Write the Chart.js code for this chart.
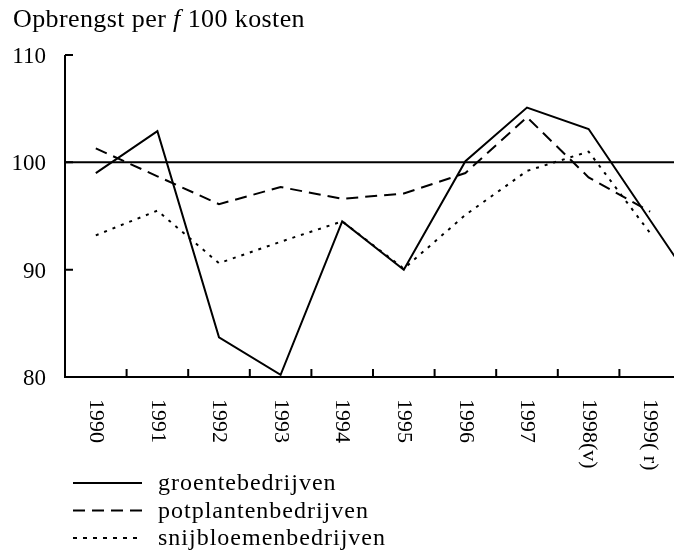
<!DOCTYPE html>
<html>
<head>
<meta charset="utf-8">
<script src="https://cdn.jsdelivr.net/npm/chart.js@4/dist/chart.umd.min.js"></script>
<style>
  html, body { margin: 0; padding: 0; background: #fff; overflow: hidden; }
</style>
</head>
<body>
<canvas id="chart" width="760" height="553"></canvas>
<script>
// years on the x axis; the last slot runs past the right edge of the picture
const years = ['1990', '1991', '1992', '1993', '1994', '1995', '1996', '1997', '1998(v)', '1999( r)', ''];
const groente = [99.0, 102.9, 83.7, 80.2, 94.5, 90.0, 100.1, 105.1, 103.1, 94.6, 86.1];
const potplanten = [101.3, 98.7, 96.1, 97.7, 96.6, 97.1, 99.0, 104.2, 98.6, 95.4, null];
const snijbloemen = [93.2, 95.5, 90.6, 92.6, 94.5, 90.1, 95.1, 99.2, 101.0, 93.4, null];
const yTicks = [80, 90, 100, 110];

const FONT = '"Liberation Serif", "DejaVu Serif", serif';

// axes, inward ticks, the 100 line, rotated year labels, title and legend
const paperLayout = {
  id: 'paperLayout',
  beforeDatasetsDraw(chart) {
    const ctx = chart.ctx;
    const a = chart.chartArea;
    const x = chart.scales.x;
    const y = chart.scales.y;
    ctx.save();
    ctx.strokeStyle = '#000';
    ctx.lineWidth = 2;
    ctx.beginPath();
    ctx.moveTo(a.left, y.getPixelForValue(110));
    ctx.lineTo(a.left, a.bottom);
    ctx.lineTo(chart.width, a.bottom);
    yTicks.forEach(v => {
      const py = y.getPixelForValue(v);
      ctx.moveTo(a.left, py);
      ctx.lineTo(a.left + 8, py);
    });
    for (let i = 0; i < years.length - 1; i++) {
      const px = x.getPixelForValue(i + 0.5);
      ctx.moveTo(px, a.bottom);
      ctx.lineTo(px, a.bottom - 8);
    }
    ctx.stroke();
    // horizontal line at 100
    ctx.beginPath();
    ctx.moveTo(a.left, y.getPixelForValue(100));
    ctx.lineTo(chart.width, y.getPixelForValue(100));
    ctx.stroke();
    ctx.restore();
  },
  afterDraw(chart) {
    const ctx = chart.ctx;
    const a = chart.chartArea;
    const x = chart.scales.x;
    const y = chart.scales.y;
    ctx.save();
    ctx.fillStyle = '#000';

    // y labels
    ctx.font = '23px ' + FONT;
    ctx.textAlign = 'right';
    ctx.textBaseline = 'middle';
    yTicks.forEach(v => ctx.fillText(String(v), 46, y.getPixelForValue(v) + 2));

    // x labels, reading top to bottom
    ctx.font = '22px ' + FONT;
    ctx.textAlign = 'left';
    years.forEach((lab, i) => {
      if (!lab) return;
      ctx.save();
      ctx.translate(x.getPixelForValue(i), a.bottom + 22);
      ctx.rotate(Math.PI / 2);
      ctx.fillText(lab, 0, 0);
      ctx.restore();
    });

    // title
    ctx.textBaseline = 'alphabetic';
    ctx.letterSpacing = '0.4px';
    let tx = 13;
    const parts = [['Opbrengst per ', ''], ['f', 'italic '], [' 100 kosten', '']];
    parts.forEach(([t, style]) => {
      ctx.font = style + '26px ' + FONT;
      ctx.fillText(t, tx, 27);
      tx += ctx.measureText(t).width;
    });

    // legend
    ctx.font = '24px ' + FONT;
    ctx.letterSpacing = '1px';
    const items = [
      ['groentebedrijven', []],
      ['potplantenbedrijven', [12, 7]],
      ['snijbloemenbedrijven', [4, 6]]
    ];
    items.forEach(([t, dash], i) => {
      const ly = 483 + i * 27.5;
      ctx.setLineDash(dash);
      ctx.lineWidth = 2;
      ctx.beginPath();
      ctx.moveTo(73, ly);
      ctx.lineTo(142, ly);
      ctx.stroke();
      ctx.setLineDash([]);
      ctx.fillText(t, 158, ly + 7);
    });
    ctx.restore();
  }
};

new Chart(document.getElementById('chart'), {
  type: 'line',
  data: {
    labels: years,
    datasets: [
      { label: 'groentebedrijven', data: groente, borderColor: '#000', borderWidth: 2 },
      { label: 'potplantenbedrijven', data: potplanten, borderColor: '#000', borderWidth: 2, borderDash: [12, 7] },
      { label: 'snijbloemenbedrijven', data: snijbloemen, borderColor: '#000', borderWidth: 2, borderDash: [3, 6] }
    ]
  },
  options: {
    responsive: false,
    animation: false,
    layout: { padding: { left: 65, top: 55, right: 17.4, bottom: 176 } },
    elements: {
      line: { tension: 0, fill: false, borderCapStyle: 'butt' },
      point: { radius: 0, hoverRadius: 0 }
    },
    scales: {
      x: { type: 'category', display: false, offset: true },
      y: { type: 'linear', display: false, min: 80, max: 110 }
    },
    plugins: {
      legend: { display: false },
      tooltip: { enabled: false }
    }
  },
  plugins: [paperLayout]
});
</script>
</body>
</html>
